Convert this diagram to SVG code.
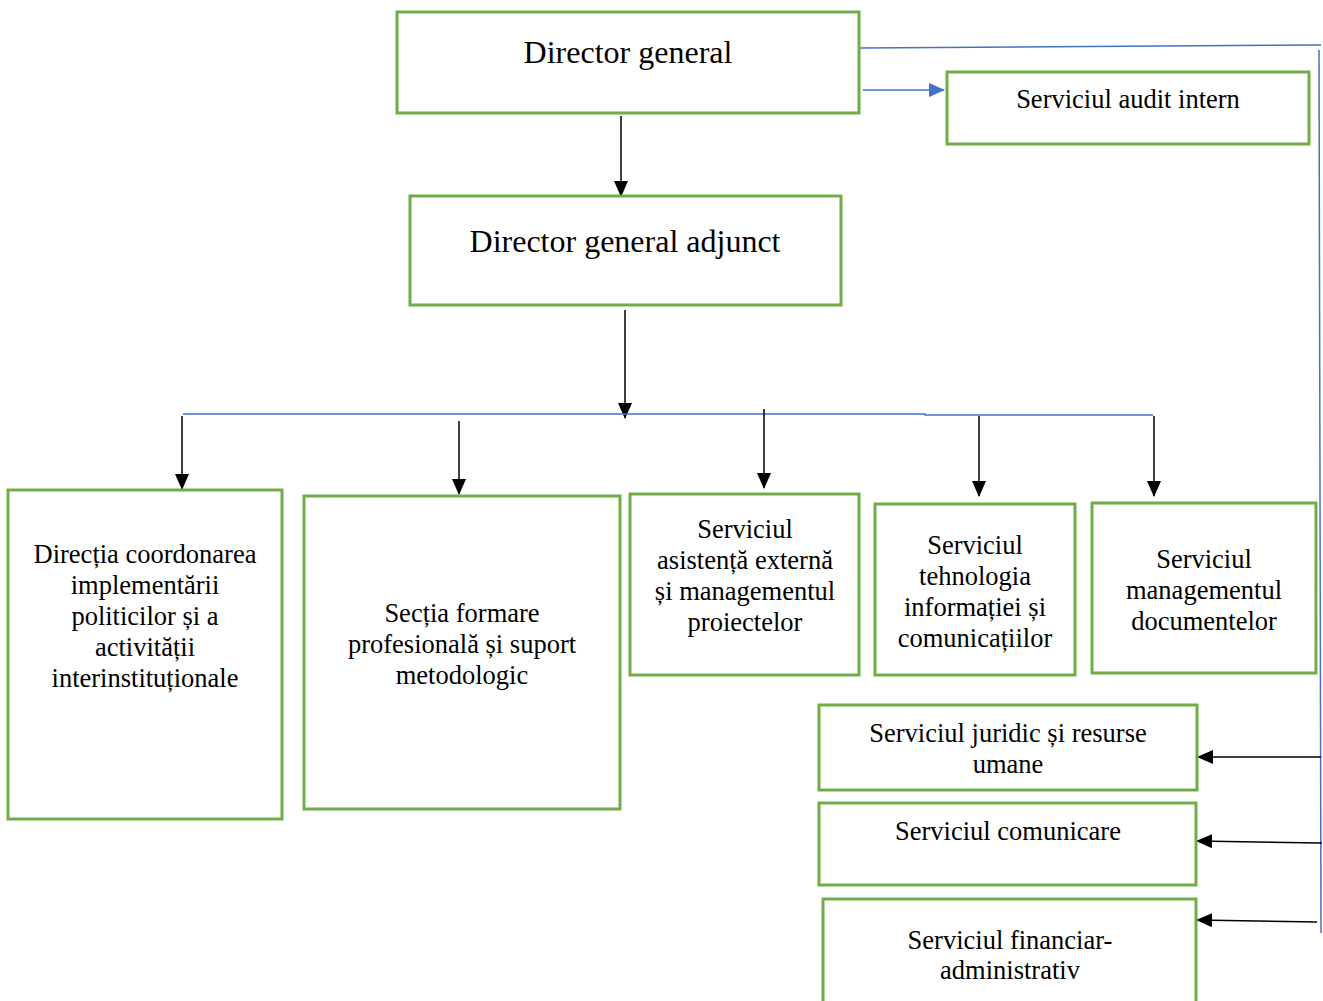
<svg xmlns="http://www.w3.org/2000/svg" width="1323" height="1001" viewBox="0 0 1323 1001">
<style>
.box{fill:#fff;stroke:#70AD47;stroke-width:3}
.t{font-family:"Liberation Serif","Times New Roman",serif;font-size:26.5px;fill:#000;text-anchor:middle}
.big{font-size:32px}
.blk{stroke:#000;stroke-width:1.5;fill:none}
.blu{stroke:#4472C4;stroke-width:1.5;fill:none}
</style>
<defs>
<marker id="abl" markerWidth="16" markerHeight="14" refX="15" refY="7" orient="auto" markerUnits="userSpaceOnUse" viewBox="0 0 16 14">
<path d="M0,0 L16,7 L0,14 z" fill="#4472C4"/>
</marker>
<marker id="ak" markerWidth="16" markerHeight="14" refX="15" refY="7" orient="auto" markerUnits="userSpaceOnUse" viewBox="0 0 16 14">
<path d="M0,0 L16,7 L0,14 z" fill="#000"/>
</marker>
</defs>
<g id="connectors">
<path class="blu" d="M860,48 L1321,45"/>
<path class="blu" d="M1319,50 L1321,933"/>
<path class="blu" d="M863,90 L944,90" marker-end="url(#abl)"/>
<path class="blk" d="M621,116 L621,196" marker-end="url(#ak)"/>
<path class="blk" d="M625,310 L625,418" marker-end="url(#ak)"/>
<path class="blu" d="M183,414 L925,414 L925,415 L1153,415"/>
<path class="blk" d="M182,416 L182,489" marker-end="url(#ak)"/>
<path class="blk" d="M459,421 L459,494" marker-end="url(#ak)"/>
<path class="blk" d="M764,409 L764,488" marker-end="url(#ak)"/>
<path class="blk" d="M979,416 L979,496" marker-end="url(#ak)"/>
<path class="blk" d="M1154,416 L1154,496" marker-end="url(#ak)"/>
<path class="blk" d="M1321,757 L1198,757" marker-end="url(#ak)"/>
<path class="blk" d="M1322,843 L1197,841" marker-end="url(#ak)"/>
<path class="blk" d="M1317,922 L1197,920" marker-end="url(#ak)"/>
</g>
<g id="director-general">
<rect class="box" x="397" y="12" width="462" height="101"/>
<text class="t big" x="628" y="63">Director general</text>
</g>
<g id="audit-intern">
<rect class="box" x="947" y="72" width="362" height="72"/>
<text class="t" x="1128" y="108">Serviciul audit intern</text>
</g>
<g id="director-adjunct">
<rect class="box" x="410" y="196" width="431" height="109"/>
<text class="t big" x="625" y="252">Director general adjunct</text>
</g>
<g id="directia">
<rect class="box" x="8" y="490" width="274" height="329"/>
<text class="t" x="145" y="563">Direcția coordonarea</text>
<text class="t" x="145" y="594">implementării</text>
<text class="t" x="145" y="625">politicilor și a</text>
<text class="t" x="145" y="656">activității</text>
<text class="t" x="145" y="687">interinstituționale</text>
</g>
<g id="sectia">
<rect class="box" x="304" y="496" width="316" height="313"/>
<text class="t" x="462" y="622">Secția formare</text>
<text class="t" x="462" y="653">profesională și suport</text>
<text class="t" x="462" y="684">metodologic</text>
</g>
<g id="asistenta">
<rect class="box" x="630" y="494" width="229" height="181"/>
<text class="t" x="745" y="538">Serviciul</text>
<text class="t" x="745" y="569">asistență externă</text>
<text class="t" x="745" y="600">și managementul</text>
<text class="t" x="745" y="631">proiectelor</text>
</g>
<g id="tehnologia">
<rect class="box" x="875" y="504" width="200" height="171"/>
<text class="t" x="975" y="554">Serviciul</text>
<text class="t" x="975" y="585">tehnologia</text>
<text class="t" x="975" y="616">informației și</text>
<text class="t" x="975" y="647">comunicațiilor</text>
</g>
<g id="documente">
<rect class="box" x="1092" y="503" width="224" height="170"/>
<text class="t" x="1204" y="568">Serviciul</text>
<text class="t" x="1204" y="599">managementul</text>
<text class="t" x="1204" y="630">documentelor</text>
</g>
<g id="juridic">
<rect class="box" x="819" y="705" width="378" height="85"/>
<text class="t" x="1008" y="742">Serviciul juridic și resurse</text>
<text class="t" x="1008" y="773">umane</text>
</g>
<g id="comunicare">
<rect class="box" x="819" y="803" width="377" height="82"/>
<text class="t" x="1008" y="840">Serviciul comunicare</text>
</g>
<g id="financiar">
<rect class="box" x="823" y="899" width="373" height="110"/>
<text class="t" x="1010" y="949">Serviciul financiar-</text>
<text class="t" x="1010" y="979">administrativ</text>
</g>
</svg>
